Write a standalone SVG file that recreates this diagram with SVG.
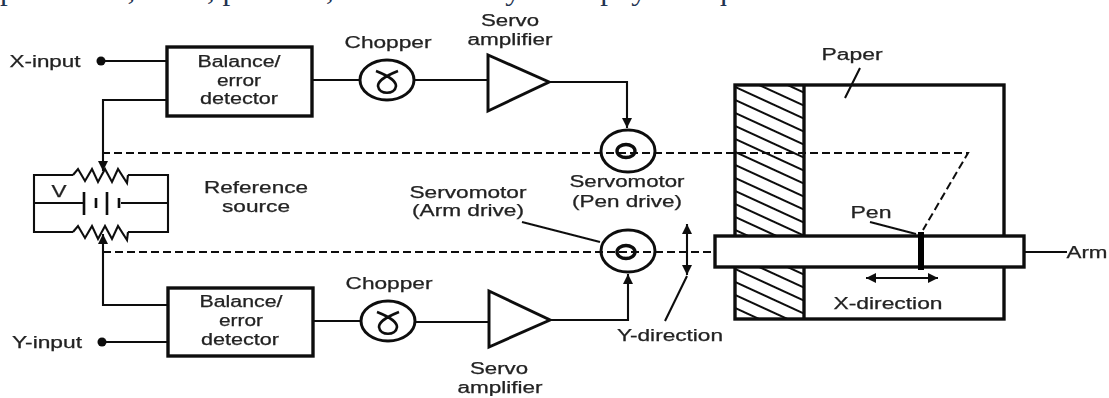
<svg xmlns="http://www.w3.org/2000/svg" width="1109" height="398" viewBox="0 0 1109 398">
<style>
text{font-family:"Liberation Sans",Arial,sans-serif;font-size:16px;fill:#222;stroke:#222;stroke-width:.25;text-anchor:middle}
text.top{font-family:"Liberation Serif","Times New Roman",serif;font-size:28px;fill:#1f3350;stroke:none;text-anchor:start}
.w{fill:none;stroke:#111;stroke-width:2.1;stroke-linejoin:miter}
.b{fill:#fff;stroke:#111;stroke-width:3.4}
.m{fill:#fff;stroke:#111;stroke-width:3}
.d{fill:none;stroke:#111;stroke-width:2;stroke-dasharray:8 4}
.h{fill:none;stroke:#111;stroke-width:2}
</style>
<defs>
<marker id="ah" markerUnits="userSpaceOnUse" markerWidth="12" markerHeight="12" refX="10" refY="5" orient="auto-start-reverse"><path d="M0 0L10 5L0 10Z" fill="#111"/></marker>
<clipPath id="hc"><rect x="735" y="85" width="69" height="234"/></clipPath>
<filter id="soft" x="0" y="0" width="100%" height="100%"><feGaussianBlur stdDeviation="0.4"/></filter>
</defs>
<rect width="1109" height="398" fill="#fff"/>
<text class="top" x="0" y="0" textLength="840" lengthAdjust="spacingAndGlyphs">placement, force, pressure, strain or many other physical quantities.</text>
<g filter="url(#soft)">
<g id="plotter">
<path class="h" clip-path="url(#hc)" d="M735 61l69 31.5M735 74l69 31.5M735 87l69 31.5M735 100l69 31.5M735 113l69 31.5M735 126l69 31.5M735 139l69 31.5M735 152l69 31.5M735 165l69 31.5M735 178l69 31.5M735 191l69 31.5M735 204l69 31.5M735 217l69 31.5M735 230l69 31.5M735 243l69 31.5M735 256l69 31.5M735 269l69 31.5M735 282l69 31.5M735 295l69 31.5M735 308l69 31.5"/>
<rect x="735" y="85" width="269" height="234" fill="none" stroke="#111" stroke-width="3.4"/>
<path d="M804 85V319" fill="none" stroke="#111" stroke-width="3.4"/>
</g>
<g id="connectors">
<path class="w" d="M101 61H167M167 100H103V171" marker-end="url(#ah)"/>
<path class="w" d="M312 80H360M415 80H488M549 82H627V128" marker-end="url(#ah)"/>
<path class="w" d="M168 342H102M168 305H103V234" marker-end="url(#ah)"/>
<path class="w" d="M313 321H361M416 322H489M550 320H628V274" marker-end="url(#ah)"/>
<path class="d" d="M102 153H968L923 230"/>
<path class="d" d="M103 252H715"/>
<path class="w" d="M522 222L600 242M687 276L665 321M860 68L845 98M870 222L916 234M1024 252H1067"/>
<path class="w" d="M687 224V275" marker-start="url(#ah)" marker-end="url(#ah)"/>
<path class="w" d="M866 278H938" marker-start="url(#ah)" marker-end="url(#ah)"/>
</g>
<g id="x-input"><circle cx="101" cy="61" r="4.5" fill="#111"/><text x="45" y="67" textLength="71" lengthAdjust="spacingAndGlyphs">X-input</text></g>
<g id="y-input"><circle cx="102" cy="342" r="4.5" fill="#111"/><text x="47" y="348" textLength="70" lengthAdjust="spacingAndGlyphs">Y-input</text></g>
<g id="detector-x"><rect class="b" x="167" y="47" width="145" height="69"/>
<text x="239" y="67" textLength="83" lengthAdjust="spacingAndGlyphs">Balance/</text><text x="239" y="86" textLength="44" lengthAdjust="spacingAndGlyphs">error</text><text x="239" y="104" textLength="78" lengthAdjust="spacingAndGlyphs">detector</text></g>
<g id="detector-y"><rect class="b" x="168" y="288" width="145" height="68"/>
<text x="241" y="307" textLength="83" lengthAdjust="spacingAndGlyphs">Balance/</text><text x="241" y="326" textLength="44" lengthAdjust="spacingAndGlyphs">error</text><text x="240" y="345" textLength="78" lengthAdjust="spacingAndGlyphs">detector</text></g>
<g id="chopper-x"><ellipse class="m" cx="387" cy="80" rx="27" ry="20"/><path class="w" style="stroke-width:2.6" d="M376 71C384 74 396 80 396 86C395 95 379 95 378 86C378 80 390 74 398 71"/>
<text x="388" y="48" textLength="87" lengthAdjust="spacingAndGlyphs">Chopper</text></g>
<g id="chopper-y"><ellipse class="m" cx="388" cy="321" rx="27" ry="20"/><path class="w" style="stroke-width:2.6" d="M377 312C385 315 397 321 397 327C396 336 380 336 379 327C379 321 391 315 399 312"/>
<text x="389" y="289" textLength="87" lengthAdjust="spacingAndGlyphs">Chopper</text></g>
<g id="amp-x"><path class="m" d="M488 55V111L549 82Z"/><text x="510" y="26" textLength="58" lengthAdjust="spacingAndGlyphs">Servo</text><text x="510" y="45" textLength="85" lengthAdjust="spacingAndGlyphs">amplifier</text></g>
<g id="amp-y"><path class="m" d="M489 291V347L550 320Z"/><text x="499" y="374" textLength="58" lengthAdjust="spacingAndGlyphs">Servo</text><text x="500" y="393" textLength="85" lengthAdjust="spacingAndGlyphs">amplifier</text></g>
<g id="motor-pen"><ellipse class="m" cx="628" cy="151" rx="27" ry="21" style="fill:none"/><ellipse cx="626" cy="151" rx="9" ry="6.5" fill="none" stroke="#111" stroke-width="3.4"/>
<text x="627" y="187" textLength="115" lengthAdjust="spacingAndGlyphs">Servomotor</text><text x="627" y="207" textLength="110" lengthAdjust="spacingAndGlyphs">(Pen drive)</text></g>
<g id="motor-arm"><ellipse class="m" cx="628" cy="251" rx="27" ry="21" style="fill:none"/><ellipse cx="626" cy="252" rx="9" ry="6.5" fill="none" stroke="#111" stroke-width="3.4"/>
<text x="468" y="198" textLength="117" lengthAdjust="spacingAndGlyphs">Servomotor</text><text x="468" y="216" textLength="112" lengthAdjust="spacingAndGlyphs">(Arm drive)</text></g>
<g id="reference-source">
<path class="w" d="M73 175H34V232H73M128 175H168V232H128M34 203H84M121 203H168"/>
<path class="w" d="M73 175L78 169L85 181L92 169L98 182L105 169L112 182L118 169L127 183L128 175M73 232L78 226L85 238L92 226L98 239L105 226L112 239L118 226L127 240L128 232"/>
<path class="w" style="stroke-width:2.6" d="M84 192V215M107 192V215M96 198V208M119 198V208"/>
<text x="59" y="197" textLength="15" lengthAdjust="spacingAndGlyphs">V</text>
<text x="256" y="193" textLength="104" lengthAdjust="spacingAndGlyphs">Reference</text><text x="256" y="212" textLength="68" lengthAdjust="spacingAndGlyphs">source</text>
</g>
<g id="arm"><rect x="715" y="236" width="309" height="31" fill="#fff" stroke="#111" stroke-width="3.4"/><text x="1087" y="258" textLength="41" lengthAdjust="spacingAndGlyphs">Arm</text></g>
<g id="pen"><path d="M921 232V270" stroke="#000" stroke-width="6" fill="none"/><text x="871" y="218" textLength="41" lengthAdjust="spacingAndGlyphs">Pen</text></g>
<g id="labels">
<text x="852" y="60" textLength="61" lengthAdjust="spacingAndGlyphs">Paper</text>
<text x="888" y="309" textLength="109" lengthAdjust="spacingAndGlyphs">X-direction</text>
<text x="670" y="341" textLength="106" lengthAdjust="spacingAndGlyphs">Y-direction</text>
</g>
</g>
</svg>
